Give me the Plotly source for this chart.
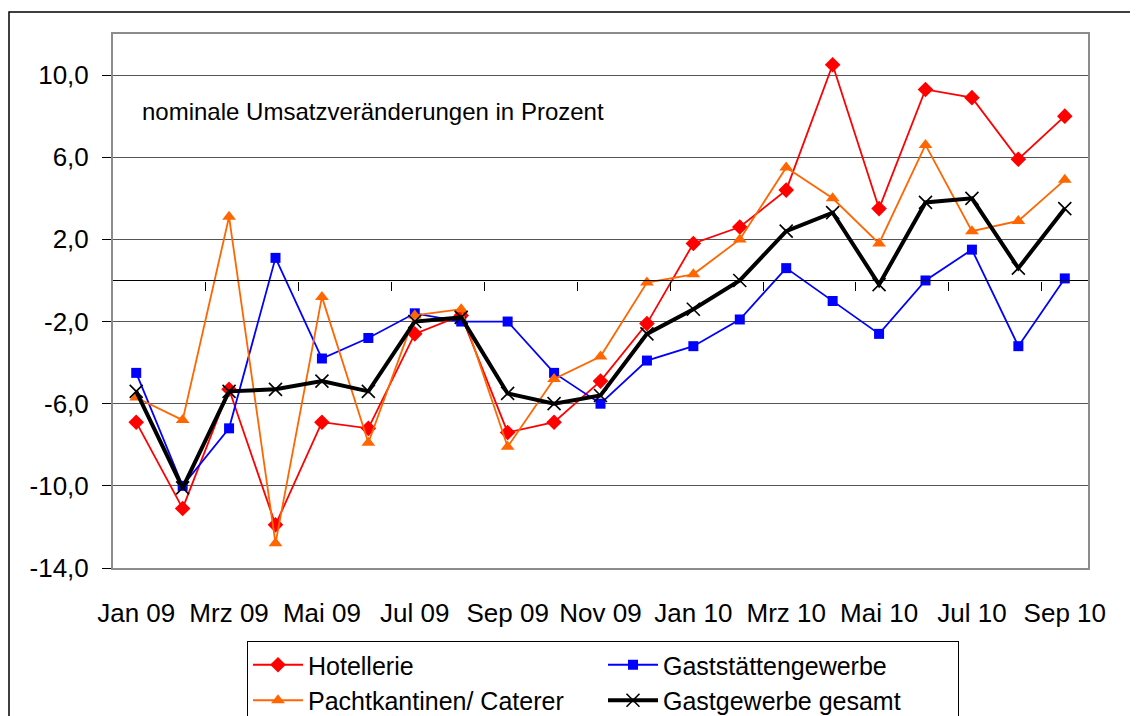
import plotly.graph_objects as go

months = ["Jan 09", "Feb 09", "Mrz 09", "Apr 09", "Mai 09", "Jun 09", "Jul 09",
          "Aug 09", "Sep 09", "Okt 09", "Nov 09", "Dez 09", "Jan 10", "Feb 10",
          "Mrz 10", "Apr 10", "Mai 10", "Jun 10", "Jul 10", "Aug 10", "Sep 10"]

hotellerie = [-6.9, -11.1, -5.3, -11.9, -6.9, -7.2, -2.6, -1.7, -7.4, -6.9, -4.9,
              -2.1, 1.8, 2.6, 4.4, 10.5, 3.5, 9.3, 8.9, 5.9, 8.0]
gaststaetten = [-4.5, -10.0, -7.2, 1.1, -3.8, -2.8, -1.6, -2.0, -2.0, -4.5, -6.0,
                -3.9, -3.2, -1.9, 0.6, -1.0, -2.6, 0.0, 1.5, -3.2, 0.1]
pachtkantinen = [-5.7, -6.8, 3.1, -12.8, -0.8, -7.9, -1.7, -1.4, -8.1, -4.8, -3.7,
                 -0.1, 0.3, 2.0, 5.5, 4.0, 1.8, 6.6, 2.4, 2.9, 4.9]
gesamt = [-5.4, -10.1, -5.4, -5.3, -4.9, -5.4, -2.0, -1.8, -5.5, -6.0, -5.6,
          -2.6, -1.4, 0.0, 2.4, 3.3, -0.2, 3.8, 4.0, 0.6, 3.5]

y_ticks = [-14, -10, -6, -2, 2, 6, 10]
y_ticktext = [f"{v:.1f}".replace(".", ",") for v in y_ticks]
y_min, y_max = -14, 12
x_labels = months[::2]

FONT = "Liberation Sans, Arial, sans-serif"

# page body has an 8px margin; shift the layout to compensate
OFF = 8
PL, PT, PW, PH = 113, 34, 975, 534   # plot area in screen pixels

def px_x(x):
    return (x - PL) / PW

def px_y(y):
    return (PT + PH - y) / PH

fig = go.Figure()
fig.add_trace(go.Scatter(x=months, y=hotellerie, name="Hotellerie", mode="lines+markers",
                         line=dict(color="#FF0000", width=1.8),
                         marker=dict(symbol="diamond", size=12, color="#FF0000")))
fig.add_trace(go.Scatter(x=months, y=gaststaetten, name="Gaststättengewerbe", mode="lines+markers",
                         line=dict(color="#0000FF", width=1.8),
                         marker=dict(symbol="square", size=10, color="#0000FF")))
fig.add_trace(go.Scatter(x=months, y=pachtkantinen, name="Pachtkantinen/ Caterer", mode="lines+markers",
                         line=dict(color="#FF6600", width=1.8),
                         marker=dict(symbol="triangle-up", size=12, color="#FF6600")))
fig.add_trace(go.Scatter(x=months, y=gesamt, name="Gastgewerbe gesamt", mode="lines+markers",
                         line=dict(color="#000000", width=4),
                         marker=dict(symbol="x-thin", size=13, color="#000000",
                                     line=dict(color="#000000", width=1.6))))
# helper trace so the zero-line axis is drawn
fig.add_trace(go.Scatter(x=[], y=[], xaxis="x2", showlegend=False, hoverinfo="skip"))

n = len(months)
W, H = 1138, 716
fig.update_layout(
    width=W, height=H,
    margin=dict(l=PL - OFF, r=W - (PL - OFF) - PW, t=PT - OFF, b=H - (PT - OFF) - PH,
                autoexpand=False),
    paper_bgcolor="white", plot_bgcolor="white",
    font=dict(family=FONT, size=26, color="#000"),
    showlegend=True,
    xaxis=dict(type="category", categoryorder="array", categoryarray=months,
               range=[-0.5, n - 0.5], tickmode="array", tickvals=x_labels, ticktext=x_labels,
               showgrid=False, zeroline=False, showline=True, mirror=True,
               linecolor="#8c8c8c", linewidth=2, ticks="", ticklabelstandoff=21,
               tickfont=dict(size=26)),
    xaxis2=dict(overlaying="x", anchor="free", position=(0 - y_min) / (y_max - y_min),
                range=[-0.5, n - 0.5], tickmode="array",
                tickvals=[i - 0.5 for i in range(2, n, 2)],
                ticks="outside", ticklen=9, tickcolor="#000", tickwidth=1,
                showticklabels=False, showgrid=False, zeroline=False,
                showline=True, linecolor="#000", linewidth=1.2, side="bottom"),
    yaxis=dict(range=[y_min, y_max], tickmode="array", tickvals=y_ticks, ticktext=y_ticktext,
               showgrid=True, gridcolor="#555555", gridwidth=1, zeroline=False,
               showline=True, mirror=True, linecolor="#8c8c8c", linewidth=2,
               ticks="outside", ticklen=9, tickcolor="#000", tickwidth=1,
               ticklabelstandoff=8, tickfont=dict(size=26)),
    legend=dict(orientation="h", x=px_x(247), y=px_y(641),
                xanchor="left", yanchor="top", bgcolor="white",
                bordercolor="#000", borderwidth=1, font=dict(size=25),
                entrywidth=290, entrywidthmode="pixels", itemwidth=50,
                traceorder="normal", tracegroupgap=0),
    annotations=[dict(text="nominale Umsatzveränderungen in Prozent", xref="paper", yref="paper",
                      x=px_x(140), y=px_y(111), xanchor="left", yanchor="middle",
                      showarrow=False, font=dict(size=24))],
    shapes=[dict(type="rect", xref="paper", yref="paper",
                 x0=px_x(9), x1=px_x(1150), y0=px_y(730), y1=px_y(12),
                 line=dict(color="#000", width=1.5), fillcolor="rgba(0,0,0,0)", layer="below")],
)

fig.write_html("out.html")
